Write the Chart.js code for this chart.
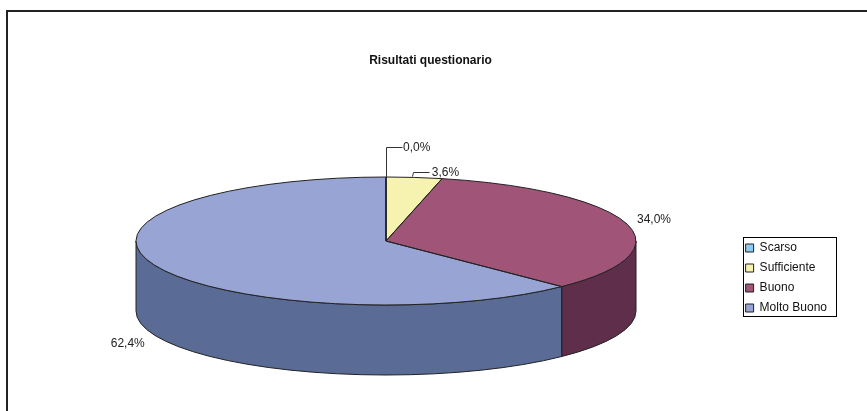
<!DOCTYPE html>
<html lang="it">
<head>
<meta charset="utf-8">
<title>Risultati questionario</title>
<script src="https://cdn.jsdelivr.net/npm/chart.js@4.4.1/dist/chart.umd.min.js"></script>
<style>
  html, body { margin: 0; padding: 0; background: #fff; }
  .sheet { position: relative; width: 867px; height: 411px; overflow: hidden; }
  .frame {
    position: absolute; left: 6px; top: 10px; width: 900px; height: 450px;
    border-left: 2px solid #222; border-top: 2px solid #222;
  }
  .sheet canvas { position: absolute; left: 0; top: 0; }
</style>
</head>
<body>
<div class="sheet">
  <div class="frame"></div>
  <canvas id="chart-survey" width="867" height="411"></canvas>
</div>
<script>
/* ── Risultati questionario — 3D pie ─────────────────────────────────────── */

const CATEGORIES  = ['Scarso', 'Sufficiente', 'Buono', 'Molto Buono'];
const PERCENTAGES = [0.0, 3.6, 34.0, 62.4];
const TITLE       = 'Risultati questionario';

const TOP_COLORS  = ['#8ccbef', '#f6f2b0', '#a05478', '#98a4d3'];
const SIDE_COLORS = ['#5d87a0', '#a5a176', '#5f2e4a', '#5a6b96'];
const EDGE  = '#222';
const FONT  = 'Arial, "Liberation Sans", sans-serif';

// Disc placement: centre of the top face, vertical squash and wall height
const DISC = { cx: 386, cy: 241, tilt: 0.256, depth: 70 };

// Value labels, relative to the slice's outer point (leader lines for thin slices)
const LABEL_SPOTS = [
  { at: [17, -29.5], align: 'left',  leader: [[0, 0], [0, -30], [15.5, -30]] },
  { at: [17.5, -5],  align: 'left',  leader: [[-2.5, -1.5], [-1, -5.5], [14.5, -5.5]] },
  { at: [10.5, -3.5], align: 'left', leader: null },
  { at: [-10, 8],    align: 'right', leader: null },
];

// ── Helpers ──────────────────────────────────────────────────────────────────
function fmtPct(v) {
  return v.toFixed(1).replace('.', ',') + '%';
}

// Slice's visible stretch of the front wall (angles between 0 and π, modulo 2π)
function frontRanges(start, end) {
  const out = [];
  [0, 2 * Math.PI].forEach(off => {
    const a = Math.max(start, off), b = Math.min(end, off + Math.PI);
    if (b > a) out.push([a, b]);
  });
  return out;
}

// ── 3D pie plugin ────────────────────────────────────────────────────────────
const pie3d = {
  id: 'pie3d',
  beforeDatasetsDraw(chart) {
    const ctx  = chart.ctx;
    const arcs = chart.getDatasetMeta(0).data;
    const rx = arcs[0].outerRadius, ry = rx * DISC.tilt;

    // walls first, the top face covers them
    ctx.lineWidth = 1;
    ctx.strokeStyle = EDGE;
    arcs.forEach((arc, i) => {
      frontRanges(arc.startAngle, arc.endAngle).forEach(([a, b]) => {
        ctx.beginPath();
        ctx.ellipse(DISC.cx, DISC.cy, rx, ry, 0, a, b);
        ctx.ellipse(DISC.cx, DISC.cy + DISC.depth, rx, ry, 0, b, a, true);
        ctx.closePath();
        ctx.fillStyle = SIDE_COLORS[i];
        ctx.fill();
        ctx.stroke();
      });
    });

    // squash the library's round arcs into the ellipse of the top face
    ctx.save();
    ctx.translate(DISC.cx, DISC.cy);
    ctx.scale(1, DISC.tilt);
    ctx.translate(-arcs[0].x, -arcs[0].y);
  },
  afterDatasetsDraw(chart) {
    const ctx  = chart.ctx;
    ctx.restore();

    const arcs = chart.getDatasetMeta(0).data;
    const rx = arcs[0].outerRadius, ry = rx * DISC.tilt;

    // slice outlines on the top face
    ctx.lineWidth = 1;
    ctx.strokeStyle = EDGE;
    arcs.forEach(arc => {
      ctx.beginPath();
      ctx.moveTo(DISC.cx, DISC.cy);
      ctx.ellipse(DISC.cx, DISC.cy, rx, ry, 0, arc.startAngle, arc.endAngle);
      ctx.closePath();
      ctx.stroke();
    });

    // value labels
    ctx.font = `12px ${FONT}`;
    ctx.fillStyle = '#222';
    ctx.textBaseline = 'middle';
    arcs.forEach((arc, i) => {
      const mid = (arc.startAngle + arc.endAngle) / 2;
      const px = DISC.cx + rx * Math.cos(mid);
      let   py = DISC.cy + ry * Math.sin(mid);
      if (Math.sin(mid) > 0) py += DISC.depth;

      const spot = LABEL_SPOTS[i];
      if (spot.leader) {
        ctx.beginPath();
        spot.leader.forEach(([dx, dy], k) => {
          const x = Math.round(px + dx) + 0.5, y = Math.round(py + dy) + 0.5;
          k ? ctx.lineTo(x, y) : ctx.moveTo(x, y);
        });
        ctx.strokeStyle = '#333';
        ctx.stroke();
      }
      ctx.textAlign = spot.align;
      ctx.fillText(fmtPct(PERCENTAGES[i]), px + spot.at[0], py + spot.at[1]);
    });
  },
  afterDraw(chart) {
    // box round the legend
    const hb = chart.legend.legendHitBoxes;
    if (!hb || !hb.length) return;
    const left   = Math.min(...hb.map(h => h.left)) - 3;
    const right  = Math.max(...hb.map(h => h.left + h.width)) + 9;
    const top    = hb[0].top - 5;
    const last   = hb[hb.length - 1];
    const bottom = last.top + last.height + 2;
    const ctx = chart.ctx;
    ctx.save();
    ctx.lineWidth = 1;
    ctx.strokeStyle = '#000';
    ctx.strokeRect(Math.round(left) + 0.5, Math.round(top) + 0.5,
                   Math.round(right - left), Math.round(bottom - top));
    ctx.restore();
  },
};

// ── Chart ────────────────────────────────────────────────────────────────────
new Chart(document.getElementById('chart-survey'), {
  type: 'pie',
  data: {
    labels: CATEGORIES,
    datasets: [{
      data: PERCENTAGES,
      backgroundColor: TOP_COLORS,
      borderWidth: 0,
      radius: 250,
      clip: false,
    }],
  },
  options: {
    responsive: false,
    animation: false,
    events: [],
    layout: { padding: { top: 10, left: 24, right: 30, bottom: 89 } },
    plugins: {
      title: {
        display: true,
        text: TITLE,
        color: '#111',
        font: { family: FONT, size: 12, weight: 'bold' },
        padding: { top: 43, bottom: 10 },
      },
      legend: {
        position: 'right',
        align: 'end',
        labels: {
          boxWidth: 8,
          boxHeight: 8,
          padding: 8,
          color: '#111',
          font: { family: FONT, size: 12 },
          generateLabels(chart) {
            const items = Chart.overrides.pie.plugins.legend.labels.generateLabels(chart);
            items.forEach(it => { it.lineWidth = 1; it.strokeStyle = EDGE; });
            return items;
          },
        },
      },
      tooltip: { enabled: false },
    },
  },
  plugins: [pie3d],
});
</script>
</body>
</html>
